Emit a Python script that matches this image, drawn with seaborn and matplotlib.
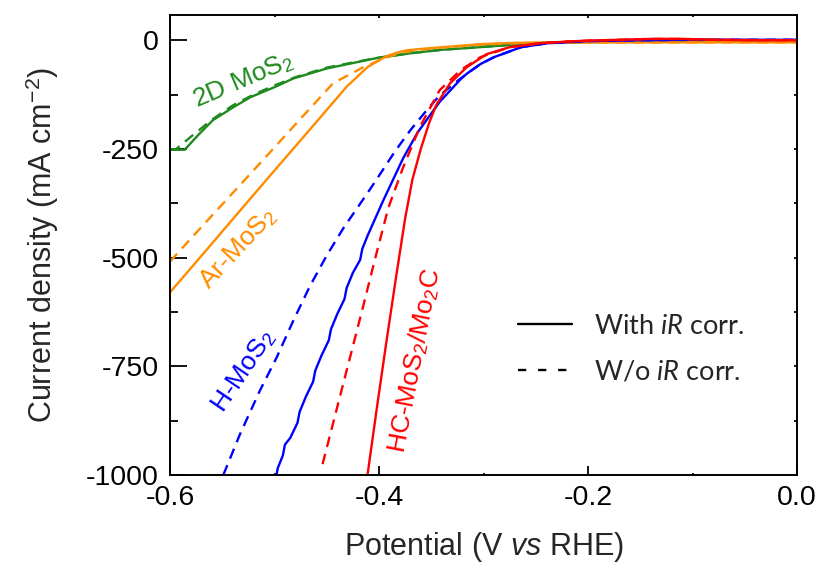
import numpy as np
import pandas as pd
import matplotlib
matplotlib.use("Agg")
import matplotlib.pyplot as plt
from matplotlib.lines import Line2D
from matplotlib.ticker import MultipleLocator
import seaborn as sns

# ---------------- data ----------------
green_with_x = [-0.600, -0.586, -0.573, -0.559, -0.540, -0.523, -0.500, -0.482, -0.450, -0.420, -0.402, -0.370, -0.340, -0.303, -0.270, -0.240, -0.200, -0.100, 0.000]
green_with_y = [-252, -252, -218, -184, -155, -131, -108, -88, -65, -50, -41, -30, -22, -16, -10, -6, -4, -3, -3]
green_wo_x = [-0.600, -0.594, -0.580, -0.560, -0.540, -0.520, -0.500, -0.480, -0.450, -0.420, -0.400, -0.370, -0.340, -0.300, -0.270, -0.240, -0.200, -0.100, 0.000]
green_wo_y = [-252, -250, -222, -183, -150, -125, -104, -85, -63, -49, -40, -30, -22, -15, -10, -6, -4, -3, -3]

orange_with_x = [-0.600, -0.566, -0.533, -0.498, -0.466, -0.431, -0.411, -0.400, -0.392, -0.382, -0.373, -0.355, -0.339, -0.303, -0.270, -0.240, -0.200, -0.100, 0.000]
orange_with_y = [-580, -485, -392, -294, -205, -107, -62, -46, -36, -28, -23, -19, -16, -9, -6, -5, -5, -5, -5]
orange_wo_x = [-0.600, -0.575, -0.549, -0.507, -0.476, -0.444, -0.415, -0.400, -0.390, -0.380, -0.370, -0.350, -0.330, -0.300, -0.270, -0.240, -0.200, -0.100, 0.000]
orange_wo_y = [-509, -443, -375, -265, -183, -99, -62, -47, -37, -30, -25, -19, -15, -10, -7, -6, -5, -5, -5]

blue_with_x = [-0.498, -0.497, -0.492, -0.490, -0.485, -0.478, -0.476, -0.470, -0.463, -0.461, -0.455, -0.448, -0.446, -0.440, -0.433, -0.431, -0.425, -0.418, -0.416, -0.411, -0.396, -0.387, -0.377, -0.363, -0.342, -0.322, -0.316, -0.303, -0.290, -0.264, -0.239, -0.200, -0.150, -0.100, -0.050, 0.000]
blue_with_y = [-1000, -985, -955, -930, -915, -880, -855, -820, -785, -760, -725, -690, -665, -630, -595, -570, -535, -505, -480, -450, -369, -323, -272, -212, -142, -90, -77, -55, -39, -16, -7, -2, 0, 1, 1, 1]
blue_wo_x = [-0.549, -0.533, -0.514, -0.498, -0.482, -0.466, -0.450, -0.434, -0.416, -0.405, -0.396, -0.387, -0.380, -0.370, -0.354, -0.342, -0.322, -0.303, -0.290, -0.264, -0.239, -0.200, -0.150, -0.100, -0.050, 0.000]
blue_wo_y = [-1000, -906, -806, -730, -645, -565, -495, -432, -369, -330, -297, -264, -240, -207, -160, -127, -88, -55, -39, -16, -7, -2, 0, 1, 1, 1]

red_with_x = [-0.411, -0.402, -0.393, -0.384, -0.375, -0.368, -0.360, -0.352, -0.345, -0.332, -0.316, -0.297, -0.275, -0.246, -0.220, -0.200, -0.170, -0.140, -0.110, -0.080, -0.040, 0.000]
red_with_y = [-1000, -845, -695, -550, -410, -320, -250, -190, -148, -99, -62, -32, -16, -7, -3, -1, 1, 3, 3, 1, 0, 0]
red_wo_x = [-0.454, -0.440, -0.428, -0.416, -0.404, -0.391, -0.377, -0.361, -0.342, -0.322, -0.303, -0.275, -0.246, -0.220, -0.200, -0.170, -0.140, -0.110, -0.080, -0.040, 0.000]
red_wo_y = [-975, -844, -732, -620, -505, -385, -293, -200, -115, -69, -39, -16, -7, -3, -1, 1, 3, 3, 1, 0, 0]

samples = ["2D MoS2", "Ar-MoS2", "H-MoS2", "HC-MoS2/Mo2C"]
colors = ["#1f8a1f", "#ff8c00", "#0000ff", "#ff0000"]
corr_levels = ["With iR corr.", "W/o iR corr."]

curves = {
    ("2D MoS2", "With iR corr."): (green_with_x, green_with_y),
    ("2D MoS2", "W/o iR corr."): (green_wo_x, green_wo_y),
    ("Ar-MoS2", "With iR corr."): (orange_with_x, orange_with_y),
    ("Ar-MoS2", "W/o iR corr."): (orange_wo_x, orange_wo_y),
    ("H-MoS2", "With iR corr."): (blue_with_x, blue_with_y),
    ("H-MoS2", "W/o iR corr."): (blue_wo_x, blue_wo_y),
    ("HC-MoS2/Mo2C", "With iR corr."): (red_with_x, red_with_y),
    ("HC-MoS2/Mo2C", "W/o iR corr."): (red_wo_x, red_wo_y),
}

rows = []
for (s, c), (xs, ys) in curves.items():
    for xv, yv in zip(xs, ys):
        rows.append({"potential": xv, "current": yv, "sample": s, "corr": c})
df = pd.DataFrame(rows)

# ---------------- style ----------------
sns.set_theme(style="ticks")
plt.rcParams.update({
    "font.family": ["Liberation Sans", "DejaVu Sans"],
    "axes.unicode_minus": False,
    "mathtext.fontset": "custom",
    "mathtext.rm": "Liberation Sans",
    "mathtext.sf": "Liberation Sans:italic",
    "mathtext.it": "Lato:italic",
    "mathtext.bf": "Liberation Sans:bold",
    "axes.linewidth": 1.4,
    "axes.edgecolor": "black",
})

fig = plt.figure(figsize=(8.24, 5.70), dpi=100)
ax = fig.add_axes([170 / 824, 1 - 475 / 570, 627 / 824, 460 / 570])

sns.lineplot(
    data=df, x="potential", y="current", hue="sample", style="corr",
    hue_order=samples, style_order=corr_levels,
    palette=dict(zip(samples, colors)),
    dashes={"With iR corr.": "", "W/o iR corr.": (4.5, 3)},
    estimator=None, sort=False, units="corr", legend=False, lw=1.7, ax=ax,
)

ax.set_xlim(-0.6, 0.0)
ax.set_ylim(-1000, 58)
ax.xaxis.set_minor_locator(MultipleLocator(0.1))
ax.yaxis.set_minor_locator(MultipleLocator(125))
ax.set_xticks([-0.6, -0.4, -0.2, 0.0])
ax.set_xticklabels(["-0.6", "-0.4", "-0.2", "0.0"])
ax.set_yticks([0, -250, -500, -750, -1000])
ax.set_yticklabels(["0", "-250", "-500", "-750", "-1000"])

ax.tick_params(axis="both", which="both", direction="in", colors="black", labelsize=20.5, width=1.3)
ax.tick_params(axis="x", which="major", length=6.5, pad=7, top=True)
ax.tick_params(axis="x", which="minor", length=1.5, top=True)
ax.tick_params(axis="y", which="major", length=12.5, pad=8, right=True)
ax.tick_params(axis="y", which="minor", length=6, right=True)
for t in ax.xaxis.get_major_ticks():
    t.tick2line.set_markersize(2)
for t in ax.yaxis.get_major_ticks():
    t.tick2line.set_markersize(2)
for t in ax.yaxis.get_minor_ticks():
    t.tick2line.set_markersize(2)

ax.set_xlabel(r"Potential (V $\mathsf{vs}$ RHE)", fontsize=22, labelpad=14)
ax.set_ylabel(r"Current density (mA cm$^{-2}$)", fontsize=22, labelpad=18)

# curve labels
lab_kw = dict(fontsize=19, ha="center", va="center", rotation_mode="anchor")
ax.text(-0.530, -92, r"2D MoS$_2$", color=colors[0], rotation=23, **lab_kw)
ax.text(-0.535, -479, r"Ar-MoS$_2$", color=colors[1], rotation=47, **lab_kw)
ax.text(-0.530, -760, r"H-MoS$_2$", color=colors[2], rotation=56, **lab_kw)
ax.text(-0.3656, -737, r"HC-MoS$_2$/Mo$_2$C", color=colors[3], rotation=79, **lab_kw)

handles = [Line2D([], [], color="black", lw=1.7),
           Line2D([], [], color="black", lw=1.7, dashes=(3.5, 5))]
ax.legend(handles, [r"With $\mathit{iR}$ corr.", r"W/o $\mathit{iR}$ corr."],
          loc="upper left", bbox_to_anchor=(0.538, 0.374), frameon=False,
          prop={"family": "Lato", "size": 19.5}, handlelength=2.0, handletextpad=0.8,
          labelspacing=0.75, borderaxespad=0.0)

fig.savefig("out.png", dpi=100)
